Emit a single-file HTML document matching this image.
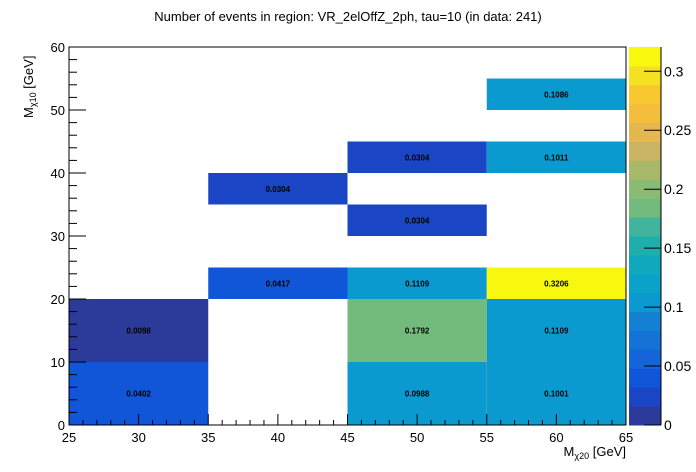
<!DOCTYPE html>
<html><head><meta charset="utf-8"><style>
body{margin:0;background:#fff;}
svg{display:block;font-family:"Liberation Sans",sans-serif;}
</style></head><body>
<svg id="c" width="696" height="472" xmlns="http://www.w3.org/2000/svg">
<text x="348" y="21" text-anchor="middle" font-size="13">Number of events in region: VR_2elOffZ_2ph, tau=10 (in data: 241)</text>
<g id="cells"></g>
<g id="axes"></g>
<g id="cbar"></g>
<text x="626" y="456" text-anchor="end" font-size="13">M<tspan font-size="9" dy="3">χ20</tspan><tspan dy="-3"> [GeV]</tspan></text>
<text transform="translate(33,118) rotate(-90)" font-size="13">M<tspan font-size="9" dy="3">χ10</tspan><tspan dy="-3"> [GeV]</tspan></text>
</svg>
<script>
const xLo=[25,25,35,35,45,45,45,45,45,55,55,55,55,55];
const xHi=[35,35,45,45,55,55,55,55,55,65,65,65,65,65];
const yLo=[0,10,20,35,0,10,20,30,40,0,10,20,40,50];
const yHi=[10,20,25,40,10,20,25,35,45,10,20,25,45,55];
const vals=[0.0402,0.0098,0.0417,0.0304,0.0988,0.1792,0.1109,0.0304,0.0304,0.1001,0.1109,0.3206,0.1011,0.1086];
const xTicks=[25,30,35,40,45,50,55,60,65];
const yTicks=[0,10,20,30,40,50,60];
const zTicks=[0,0.05,0.1,0.15,0.2,0.25,0.3];
const zMax=0.3206;
const palette=["#2c3a9a","#1a45c4","#1155d8","#1465da","#1572d6","#1380d3","#0a9ad0","#0aa2c8","#10a8bc","#20aeac","#40b49c","#72bb7c","#8abb74","#a8b868","#c8b462","#e4b84e","#f4be3c","#f8c830","#f6e022","#f8f80e"];
const NS="http://www.w3.org/2000/svg";
const X0=69,X1=626,Y0=425,Y1=47;
const sx=v=>X0+(v-25)/(65-25)*(X1-X0);
const sy=v=>Y0-(v-0)/(60-0)*(Y0-Y1);
const zy=v=>Y0-v/zMax*(Y0-Y1);
function mk(t,a,p){const e=document.createElementNS(NS,t);for(const k in a)e.setAttribute(k,a[k]);p.appendChild(e);return e;}
const col=v=>palette[Math.min(19,Math.floor(v/zMax*20))];
const cells=document.getElementById('cells');
for(let i=0;i<vals.length;i++){
 const r=mk('rect',{x:sx(xLo[i]),y:sy(yHi[i]),width:sx(xHi[i])-sx(xLo[i]),height:sy(yLo[i])-sy(yHi[i]),fill:col(vals[i])},cells);
 
 
 const t=mk('text',{x:(sx(xLo[i])+sx(xHi[i]))/2,y:(sy(yLo[i])+sy(yHi[i]))/2+3,'text-anchor':'middle','font-size':'8','font-weight':'bold'},cells);
 t.textContent=vals[i].toFixed(4);
 
 
}
const ax=document.getElementById('axes');
mk('rect',{x:X0,y:Y1,width:X1-X0,height:Y0-Y1,fill:'none',stroke:'#000','stroke-width':1},ax);
for(let v=25;v<=65;v+=1){const maj=v%5==0;mk('line',{x1:sx(v),x2:sx(v),y1:Y0,y2:Y0-(maj?11:5),stroke:'#000'},ax);}
xTicks.forEach(v=>{const t=mk('text',{x:sx(v),y:Y0+17,'text-anchor':'middle','font-size':'13'},ax);t.textContent=v;
 
 });
for(let v=0;v<=60;v+=2){const maj=v%10==0;mk('line',{x1:X0,x2:X0+(maj?17:8),y1:sy(v),y2:sy(v),stroke:'#000'},ax);}
yTicks.forEach(v=>{const t=mk('text',{x:X0-4,y:sy(v)+5,'text-anchor':'end','font-size':'13'},ax);t.textContent=v;
 
 });
const cb=document.getElementById('cbar');
for(let i=0;i<20;i++){const r=mk('rect',{x:629,y:zy((i+1)*zMax/20),width:32,height:(Y0-Y1)/20+0.5,fill:palette[i]},cb);
 
 }
mk('line',{x1:661,x2:661,y1:Y1,y2:Y0,stroke:'#000'},cb);
zTicks.forEach(v=>{mk('line',{x1:644,x2:661,y1:zy(v),y2:zy(v),stroke:'#000'},cb);
 const t=mk('text',{x:664,y:zy(v)+5,'font-size':'14'},cb);t.textContent=v;
 
 });
</script>
</body></html>
